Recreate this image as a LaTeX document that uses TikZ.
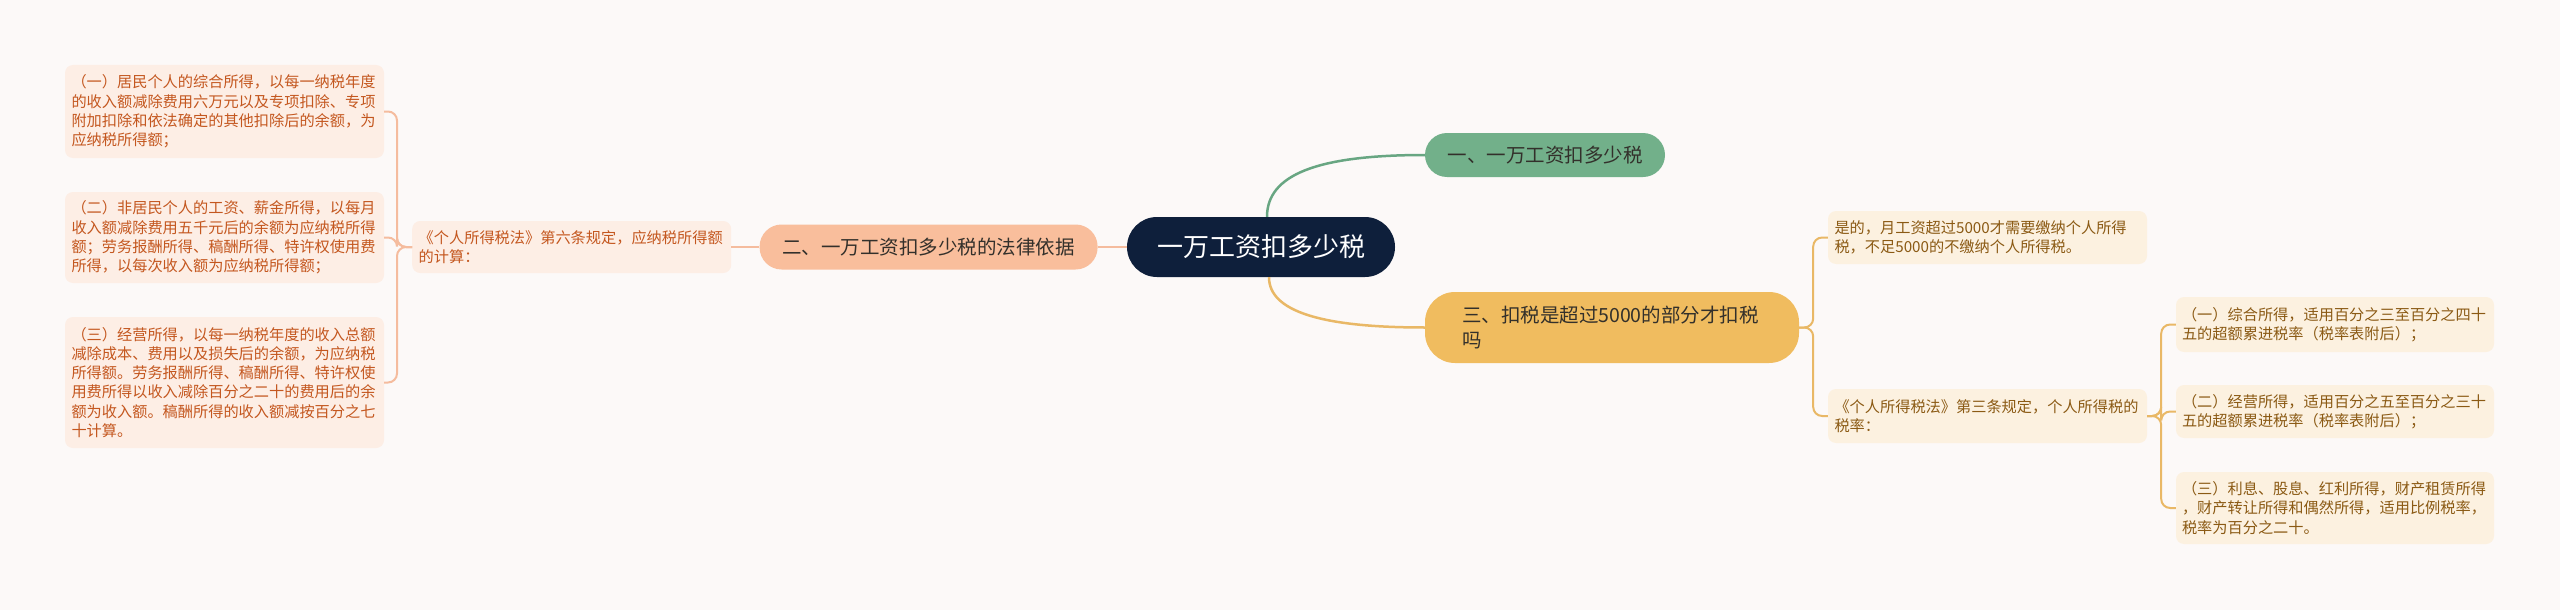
\documentclass[tikz,border=0pt]{standalone}
\usepackage{fontspec}
\setmainfont{Noto Sans CJK SC}
\usetikzlibrary{positioning}
\definecolor{MapBg}{HTML}{FCF9F8}
\definecolor{MapNavy}{HTML}{0E1F3B}
\definecolor{MapGreen}{HTML}{72B08A}
\definecolor{MapGreenLine}{HTML}{68A682}
\definecolor{MapGold}{HTML}{F0BC5F}
\definecolor{MapGoldLine}{HTML}{E9B866}
\definecolor{MapPeach}{HTML}{F9BE9C}
\definecolor{MapPeachLine}{HTML}{F5BC9E}
\definecolor{PeachLeaf}{HTML}{FDEEE5}
\definecolor{PeachText}{HTML}{C4571F}
\definecolor{GoldLeaf}{HTML}{FCF1E0}
\definecolor{GoldText}{HTML}{8B5A14}
\definecolor{TopicText}{HTML}{33302B}

\begin{document}
\begin{tikzpicture}[x=1pt,y=-1pt,
node distance=28pt,
root/.style={rectangle,rounded corners=30pt,fill=MapNavy,text=white,minimum width=268pt,minimum height=60pt,
align=center,font=\fontsize{26}{30}\selectfont},
topic/.style={rectangle,rounded corners=22pt,text=TopicText,minimum height=44pt,align=center,font=\fontsize{19.5}{25}\selectfont},
leftleaf/.style={rectangle,rounded corners=8pt,fill=PeachLeaf,text=PeachText,minimum width=319pt,text width=306pt,
align=left,font=\fontsize{15.2}{19.2}\selectfont},
rightleaf/.style={leftleaf,fill=GoldLeaf,text=GoldText},
link/.style={line width=2.5pt},
bracket/.style={line width=2pt,rounded corners=9pt}
]
\fill[MapBg] (0,0) rectangle (2560,610);

% centre and main topics
\node[root] (root) at (1261,247) {一万工资扣多少税};
\node[topic,fill=MapGreen,minimum width=240pt] (green) at (1545,155) {一、一万工资扣多少税};
\node[topic,fill=MapGold,minimum width=374pt,minimum height=71pt,rounded corners=30pt,text width=300pt,align=left] (gold) at (1612,327.5)
{三、扣税是超过5000的部分才扣税\\吗};
\node[topic,fill=MapPeach,minimum width=338pt,minimum height=45pt,left=29pt of root] (peach) {二、一万工资扣多少税的法律依据};

% left branch
\node[leftleaf,minimum height=52pt,left=of peach] (law6) {《个人所得税法》第六条规定，应纳税所得额\\的计算：};
\node[leftleaf,minimum height=93pt] (l1) at (224.5,111.5)
{（一）居民个人的综合所得，以每一纳税年度\\的收入额减除费用六万元以及专项扣除、专项\\附加扣除和依法确定的其他扣除后的余额，为\\应纳税所得额；};
\node[leftleaf,minimum height=91pt] (l2) at (224.5,237.5)
{（二）非居民个人的工资、薪金所得，以每月\\收入额减除费用五千元后的余额为应纳税所得\\额；劳务报酬所得、稿酬所得、特许权使用费\\所得，以每次收入额为应纳税所得额；};
\node[leftleaf,minimum height=131pt] (l3) at (224.5,382.5)
{（三）经营所得，以每一纳税年度的收入总额\\减除成本、费用以及损失后的余额，为应纳税\\所得额。劳务报酬所得、稿酬所得、特许权使\\用费所得以收入减除百分之二十的费用后的余\\额为收入额。稿酬所得的收入额减按百分之七\\十计算。};

% right branch
\node[rightleaf,minimum height=53pt] (yes) at (1987.5,237.5) {是的，月工资超过5000才需要缴纳个人所得\\税，不足5000的不缴纳个人所得税。};
\node[rightleaf,minimum height=54pt] (law3) at (1987.5,416) {《个人所得税法》第三条规定，个人所得税的\\税率：};
\node[rightleaf,minimum width=318pt,minimum height=55pt] (r1) at (2335,324.5)
{（一）综合所得，适用百分之三至百分之四十\\五的超额累进税率（税率表附后）；};
\node[rightleaf,minimum width=318pt,minimum height=53pt] (r2) at (2335,411.5)
{（二）经营所得，适用百分之五至百分之三十\\五的超额累进税率（税率表附后）；};
\node[rightleaf,minimum width=318pt,minimum height=72pt] (r3) at (2335,508)
{（三）利息、股息、红利所得，财产租赁所得\\，财产转让所得和偶然所得，适用比例税率，\\税率为百分之二十。};

% connectors
\draw[link,MapGreenLine] ([xshift=6pt]root.north) .. controls +(0,-42) and +(-108,0) .. (green.west);
\draw[link,MapGoldLine] ([xshift=8pt]root.south) .. controls +(0,34) and +(-104,0) .. (gold.west);
\draw[link,MapPeachLine] (root.west) -- (peach.east); \draw[link,MapPeachLine] (peach.west) -- (law6.east);
\draw[bracket,MapPeachLine] (law6.west) -- ++(-15,0) |- (l1.east);
\draw[bracket,MapPeachLine] (law6.west) -- ++(-15,0) |- (l2.east);
\draw[bracket,MapPeachLine] (law6.west) -- ++(-15,0) |- (l3.east);
\draw[bracket,MapGoldLine] (gold.east) -- ++(14,0) |- (yes.west);
\draw[bracket,MapGoldLine] (gold.east) -- ++(14,0) |- (law3.west);
\draw[bracket,MapGoldLine] (law3.east) -- ++(14,0) |- (r1.west);
\draw[bracket,MapGoldLine] (law3.east) -- ++(14,0) |- (r2.west);
\draw[bracket,MapGoldLine] (law3.east) -- ++(14,0) |- (r3.west);
\end{tikzpicture}
\end{document}
